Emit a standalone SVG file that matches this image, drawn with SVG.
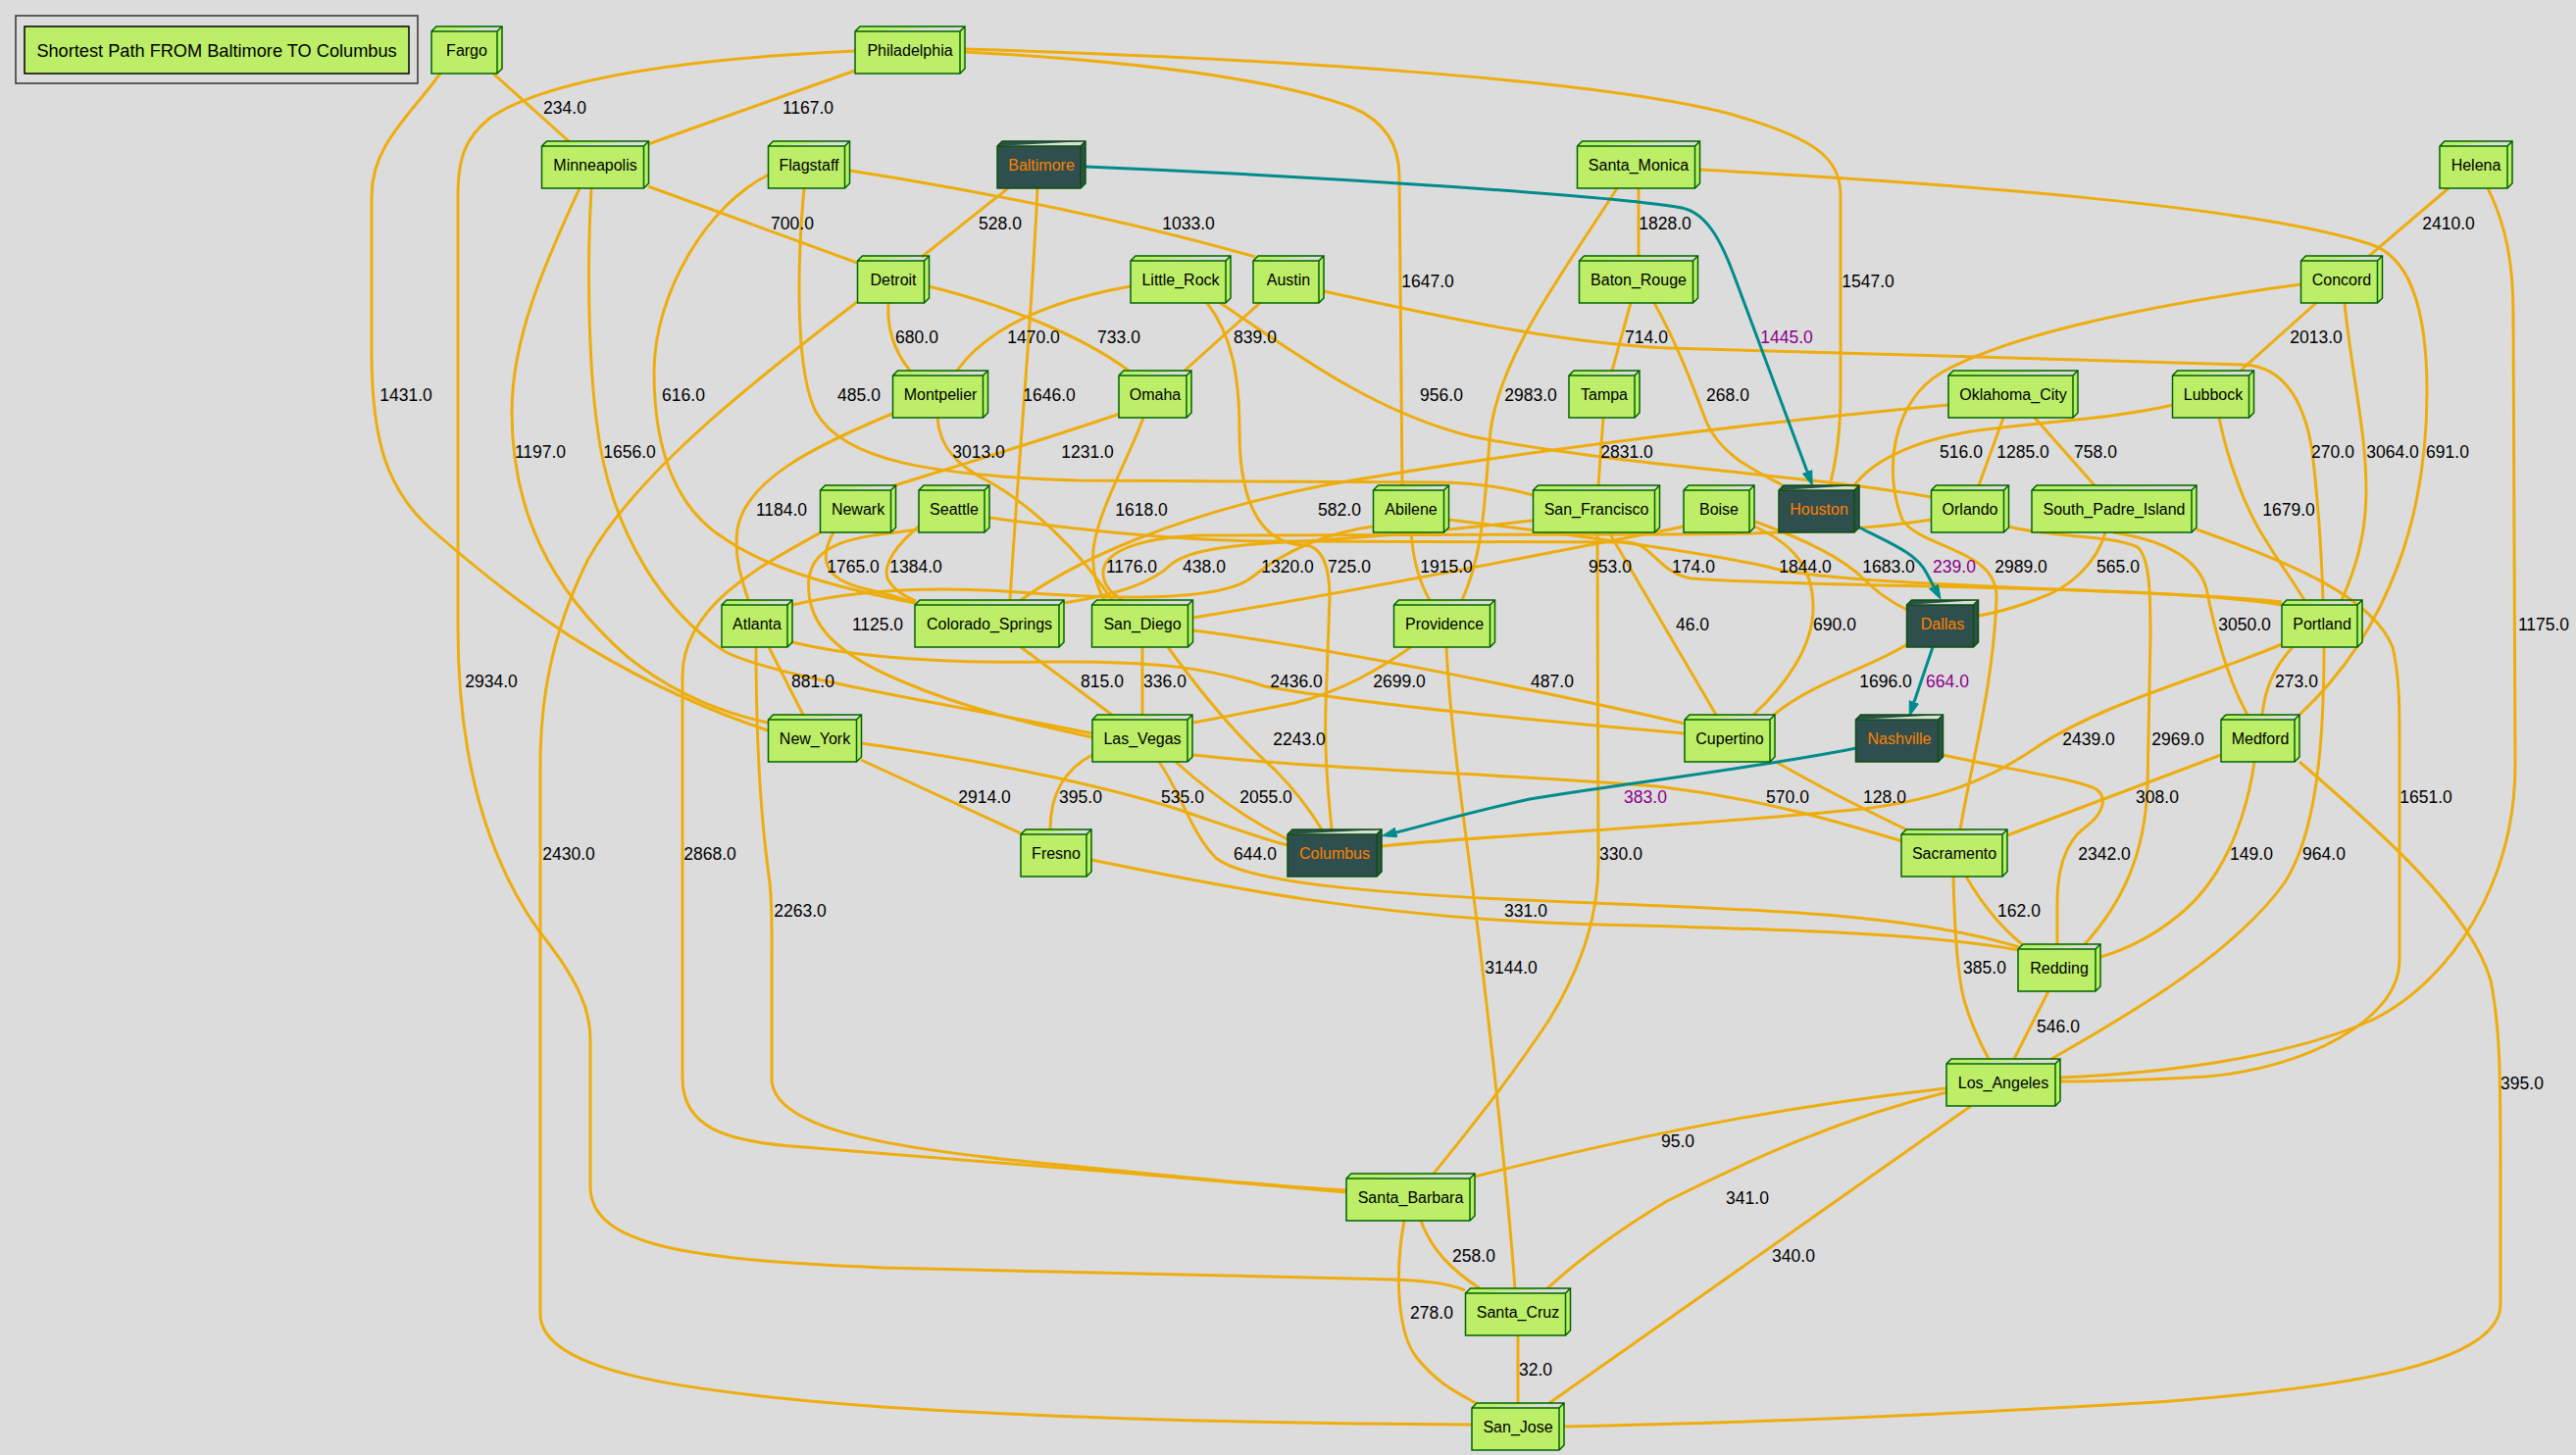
<svg xmlns="http://www.w3.org/2000/svg" width="2627" height="1484" viewBox="0 0 2627 1484">
<style>
text{font-family:"Liberation Sans",Arial,sans-serif}
.node path{fill:#bcee68;stroke:#006400;stroke-width:1.5}
.pnode path{fill:#2f4f4f;stroke:#0a520a;stroke-width:1.5}
.node text,.pnode text{font-size:16px;text-anchor:middle;fill:#000}
.pnode text{fill:#ff7f00}
#edges path{fill:none;stroke:#eead0e;stroke-width:3}
#edges path.pe{stroke:#008b8b;stroke-width:3;marker-end:url(#arr)}
#labels text{font-size:17.5px;text-anchor:middle;fill:#000}
#labels text.pl{fill:#8b008b}
</style>
<defs>
<marker id="arr" markerUnits="userSpaceOnUse" markerWidth="15" markerHeight="11" refX="0" refY="5" orient="auto" viewBox="0 0 15 10"><path d="M0,0L15,5L0,10Z" fill="#008b8b" stroke="#008b8b"/></marker>
</defs>
<rect width="2627" height="1484" fill="#dcdcdc"/>
<g id="title">
<rect x="16" y="16" width="410" height="69" fill="none" stroke="#333" stroke-width="1.5"/>
<rect x="25" y="27" width="392" height="48" fill="#bcee68" stroke="#000" stroke-width="1.5"/>
<text x="221" y="57.5" font-size="18.2" text-anchor="middle">Shortest Path FROM Baltimore TO Columbus</text>
</g>
<g id="edges">
<path d="M503,75 L580,144"/>
<path d="M872,72 L661,147"/>
<path d="M449,75 C418,118 379,148 379,200 L379,360 C379,450 395,500 440,540 C520,610 620,690 783,745"/>
<path d="M872,52 C700,60 560,80 500,120 C475,140 467,160 467,200 L467,640 C467,780 500,880 550,950 C590,1000 602,1030 602,1060 L602,1210 C602,1270 700,1285 900,1293 L1420,1305 C1460,1306 1480,1310 1494,1316"/>
<path d="M984,53 C1150,62 1300,80 1380,110 C1415,125 1427,150 1427,180 L1430,495"/>
<path d="M984,50 C1300,60 1620,80 1760,115 C1850,140 1877,160 1877,200 L1877,400 C1877,450 1870,480 1866,495"/>
<path d="M661,190 L874,268"/>
<path d="M591,192 C560,260 522,340 522,420 C522,520 560,600 640,670 C690,710 740,728 783,737"/>
<path d="M603,192 C598,280 600,400 615,470 C630,540 670,620 740,665 C790,690 950,715 1114,748"/>
<path d="M1028,192 L940,262"/>
<path d="M1058,192 C1052,330 1040,450 1030,612"/>
<path d="M867,174 C1000,195 1150,225 1280,262"/>
<path d="M784,178 C720,210 667,300 667,380 C667,460 690,520 740,550 C790,585 880,605 933,615"/>
<path d="M820,192 C812,280 812,380 832,420 C860,470 950,485 1100,490 L1470,492 C1510,493 1540,498 1563,505"/>
<path d="M1671,192 L1671,261"/>
<path d="M1649,192 C1600,270 1530,360 1520,440 C1514,500 1515,560 1491,612"/>
<path d="M1733,173 C2000,188 2300,210 2420,250 C2460,265 2475,320 2475,400 C2475,520 2440,640 2345,729"/>
<path d="M2497,192 L2416,261"/>
<path d="M2537,192 C2556,230 2563,270 2563,320 L2565,780 C2565,900 2500,1000 2420,1040 C2330,1080 2200,1095 2101,1099"/>
<path d="M906,309 C904,340 915,362 928,378"/>
<path d="M947,292 C1020,310 1100,340 1151,378"/>
<path d="M874,308 C780,380 650,480 600,570 C560,650 551,720 551,780 L551,1340 C551,1400 700,1420 900,1435 C1100,1448 1300,1452 1501,1453"/>
<path d="M1153,292 C1080,305 1010,330 976,378"/>
<path d="M1243,308 C1320,360 1400,420 1500,445 C1650,475 1850,485 1970,507"/>
<path d="M1231,309 C1255,340 1264,380 1264,440 C1264,520 1290,555 1330,556 C1350,557 1356,580 1356,610 L1352,720 C1350,780 1356,820 1358,846"/>
<path d="M1286,308 L1208,378"/>
<path d="M1350,297 C1500,330 1600,350 1700,355 L2290,372 C2330,375 2350,410 2358,460 C2365,520 2368,580 2369,612"/>
<path d="M1663,309 L1644,378"/>
<path d="M1687,309 C1710,350 1725,390 1740,430 C1755,465 1790,480 1818,495"/>
<path d="M2362,309 L2285,378"/>
<path d="M2391,309 C2398,380 2413,440 2413,500 C2413,550 2400,585 2388,612"/>
<path d="M2346,290 C2200,310 2050,340 1980,380 C1930,410 1920,480 1940,530 C1960,560 2038,560 2036,610 C2033,700 2010,780 1999,846"/>
<path d="M910,422 C830,455 760,490 752,540 C748,570 758,595 763,612"/>
<path d="M956,426 C958,455 975,475 1010,492 C1050,515 1100,560 1134,612"/>
<path d="M1142,422 C1060,450 960,480 910,496"/>
<path d="M1166,426 C1150,470 1120,520 1115,560 C1113,585 1120,600 1126,612"/>
<path d="M1635,426 L1630,495"/>
<path d="M1987,413 C1800,430 1550,460 1350,495 C1200,525 1100,570 1041,612"/>
<path d="M2043,426 L2018,495"/>
<path d="M2075,426 L2136,495"/>
<path d="M2216,413 C2150,428 2080,430 2010,440 C1950,450 1910,470 1891,495"/>
<path d="M2263,426 C2272,470 2290,520 2310,550 C2325,575 2340,595 2350,612"/>
<path d="M850,543 C835,570 840,590 880,600 C905,606 925,611 934,616"/>
<path d="M837,543 C770,580 696,620 696,690 L696,1100 C696,1150 740,1165 820,1170 C950,1180 1200,1200 1373,1216"/>
<path d="M937,537 C915,555 900,575 905,590 C910,600 922,608 934,613"/>
<path d="M937,540 C880,547 830,550 825,590 C820,640 860,670 920,695 C990,725 1060,740 1114,752"/>
<path d="M1009,528 C1100,540 1200,552 1300,552 L1660,553 C1685,554 1692,585 1725,590 C1850,600 2200,596 2327,617"/>
<path d="M1970,530 C1900,541 1800,545 1700,545 L1230,546 C1170,547 1128,560 1125,582 C1124,598 1135,606 1145,612"/>
<path d="M1477,530 C1600,545 1750,565 1810,580 C1900,600 2200,600 2327,614"/>
<path d="M1439,543 C1441,570 1448,595 1458,612"/>
<path d="M808,617 C880,600 960,598 1040,604 C1120,610 1240,615 1275,590 C1300,570 1340,545 1400,537"/>
<path d="M1085,615 C1140,606 1175,595 1195,575 C1215,560 1260,555 1330,552 C1430,546 1500,538 1563,531"/>
<path d="M1641,543 L1750,729"/>
<path d="M1629,543 L1630,880 C1630,940 1610,990 1580,1040 C1540,1100 1500,1150 1462,1197"/>
<path d="M1717,537 C1600,560 1400,600 1217,630"/>
<path d="M1789,537 C1830,555 1849,580 1849,620 C1849,660 1820,700 1788,729"/>
<path d="M1790,532 C1840,550 1880,570 1900,590 C1915,605 1930,615 1945,622"/>
<path d="M2147,543 C2138,575 2110,600 2080,610 C2060,618 2040,624 2018,628"/>
<path d="M2155,543 C2200,550 2240,565 2250,600 C2258,640 2270,690 2292,729"/>
<path d="M2240,540 C2340,575 2420,610 2440,660 C2447,690 2447,720 2447,760 L2447,980 C2447,1040 2350,1090 2250,1098 C2180,1102 2130,1103 2101,1103"/>
<path d="M2048,537 C2090,548 2150,545 2180,558 C2192,570 2193,600 2193,650 L2190,800 C2188,870 2165,920 2126,963"/>
<path d="M784,660 L819,729"/>
<path d="M808,655 C870,670 950,677 1070,675 C1170,674 1230,680 1290,700 C1400,720 1600,738 1718,748"/>
<path d="M771,660 C771,740 775,830 785,900 C788,930 787,960 787,990 L787,1100 C787,1150 900,1170 1050,1185 C1200,1200 1300,1210 1373,1214"/>
<path d="M1041,660 L1134,729"/>
<path d="M1165,660 L1165,729"/>
<path d="M1217,643 C1350,660 1550,700 1718,738"/>
<path d="M1191,660 C1220,700 1260,750 1300,785 C1320,805 1335,825 1348,846"/>
<path d="M1439,660 C1410,680 1370,705 1320,717 C1280,725 1250,731 1217,737"/>
<path d="M1475,660 C1480,760 1500,880 1512,990 C1525,1100 1538,1220 1545,1314"/>
<path d="M1945,657 C1910,680 1850,695 1809,729"/>
<path d="M2338,660 C2320,680 2310,700 2307,729"/>
<path d="M2327,657 C2250,690 2150,715 2080,760 C2030,795 1980,815 1900,825 C1700,845 1500,853 1409,863"/>
<path d="M2370,660 C2370,760 2362,850 2330,900 C2280,970 2180,1030 2092,1080"/>
<path d="M878,775 L1041,850"/>
<path d="M878,758 C1000,775 1120,800 1200,825 C1250,842 1285,855 1313,862"/>
<path d="M1114,770 C1085,785 1071,810 1071,846"/>
<path d="M1199,777 C1230,805 1270,835 1313,856"/>
<path d="M1217,770 C1350,785 1550,790 1690,802 C1800,815 1880,840 1940,858"/>
<path d="M1182,777 C1205,810 1215,850 1240,875 C1270,900 1400,912 1600,920 C1800,928 1950,932 2059,966"/>
<path d="M1811,777 C1860,805 1900,825 1944,846"/>
<path d="M1981,770 C2050,785 2120,795 2138,805 C2150,815 2145,830 2125,845 C2105,860 2098,890 2098,920 L2098,963"/>
<path d="M2265,770 L2047,852"/>
<path d="M2299,777 C2290,840 2265,900 2220,935 C2195,955 2170,968 2142,976"/>
<path d="M2345,777 C2430,850 2520,930 2540,1000 C2550,1050 2550,1100 2550,1200 L2550,1330 C2550,1390 2400,1415 2200,1430 C1950,1445 1750,1452 1595,1455"/>
<path d="M1113,877 C1250,905 1400,935 1600,942 C1800,948 1950,950 2059,969"/>
<path d="M2005,894 C2020,920 2040,945 2062,963"/>
<path d="M1992,894 C1993,940 1995,990 2003,1020 C2010,1045 2020,1065 2028,1080"/>
<path d="M2089,1011 L2054,1080"/>
<path d="M1985,1110 C1850,1125 1700,1150 1504,1200"/>
<path d="M1985,1114 C1880,1140 1790,1180 1700,1225 C1650,1255 1610,1285 1578,1314"/>
<path d="M2010,1128 L1580,1431"/>
<path d="M1449,1245 C1460,1275 1480,1295 1509,1314"/>
<path d="M1432,1245 C1422,1300 1425,1360 1445,1385 C1465,1410 1485,1420 1505,1431"/>
<path d="M1548,1362 L1548,1431"/>
<path class="pe" d="M1107,170 C1350,180 1650,200 1715,212 C1740,217 1755,245 1768,280 L1843,481"/>
<path class="pe" d="M1894,537 C1930,555 1955,565 1965,585 L1972,598"/>
<path class="pe" d="M1971,660 L1952,716"/>
<path class="pe" d="M1893,763 C1800,782 1650,800 1560,815 C1500,828 1460,840 1424,849"/>
</g>
<g id="labels">
<text x="576" y="115.5">234.0</text>
<text x="824" y="115.5">1167.0</text>
<text x="808" y="233.5">700.0</text>
<text x="1020" y="233.5">528.0</text>
<text x="1212" y="233.5">1033.0</text>
<text x="1456" y="292.5">1647.0</text>
<text x="1905" y="292.5">1547.0</text>
<text x="1698" y="233.5">1828.0</text>
<text class="pl" x="1822" y="349.5">1445.0</text>
<text x="1679" y="349.5">714.0</text>
<text x="1470" y="408.5">956.0</text>
<text x="1561" y="408.5">2983.0</text>
<text x="1762" y="408.5">268.0</text>
<text x="1659" y="466.5">2831.0</text>
<text x="2497" y="233.5">2410.0</text>
<text x="2362" y="349.5">2013.0</text>
<text x="2000" y="466.5">516.0</text>
<text x="2063" y="466.5">1285.0</text>
<text x="2137" y="466.5">758.0</text>
<text x="2379" y="466.5">270.0</text>
<text x="2440" y="466.5">3064.0</text>
<text x="2496" y="466.5">691.0</text>
<text x="414" y="408.5">1431.0</text>
<text x="551" y="466.5">1197.0</text>
<text x="642" y="466.5">1656.0</text>
<text x="697" y="408.5">616.0</text>
<text x="876" y="408.5">485.0</text>
<text x="935" y="349.5">680.0</text>
<text x="1054" y="349.5">1470.0</text>
<text x="1141" y="349.5">733.0</text>
<text x="1280" y="349.5">839.0</text>
<text x="1070" y="408.5">1646.0</text>
<text x="998" y="466.5">3013.0</text>
<text x="1109" y="466.5">1231.0</text>
<text x="501" y="700.5">2934.0</text>
<text x="580" y="876.5">2430.0</text>
<text x="797" y="525.5">1184.0</text>
<text x="870" y="583.5">1765.0</text>
<text x="934" y="583.5">1384.0</text>
<text x="895" y="642.5">1125.0</text>
<text x="1164" y="525.5">1618.0</text>
<text x="1154" y="583.5">1176.0</text>
<text x="1228" y="583.5">438.0</text>
<text x="1313" y="583.5">1320.0</text>
<text x="1376" y="583.5">725.0</text>
<text x="1366" y="525.5">582.0</text>
<text x="1475" y="583.5">1915.0</text>
<text x="1642" y="583.5">953.0</text>
<text x="1727" y="583.5">174.0</text>
<text x="1841" y="583.5">1844.0</text>
<text x="1926" y="583.5">1683.0</text>
<text class="pl" x="1993" y="583.5">239.0</text>
<text x="2061" y="583.5">2989.0</text>
<text x="2160" y="583.5">565.0</text>
<text x="2334" y="525.5">1679.0</text>
<text x="2289" y="642.5">3050.0</text>
<text x="2594" y="642.5">1175.0</text>
<text x="1726" y="642.5">46.0</text>
<text x="1871" y="642.5">690.0</text>
<text x="1322" y="700.5">2436.0</text>
<text x="1427" y="700.5">2699.0</text>
<text x="1583" y="700.5">487.0</text>
<text x="1923" y="700.5">1696.0</text>
<text class="pl" x="1986" y="700.5">664.0</text>
<text x="2342" y="700.5">273.0</text>
<text x="829" y="700.5">881.0</text>
<text x="1124" y="700.5">815.0</text>
<text x="1188" y="700.5">336.0</text>
<text x="1325" y="759.5">2243.0</text>
<text x="2130" y="759.5">2439.0</text>
<text x="2221" y="759.5">2969.0</text>
<text x="1004" y="818.5">2914.0</text>
<text x="1102" y="818.5">395.0</text>
<text x="1206" y="818.5">535.0</text>
<text x="1291" y="818.5">2055.0</text>
<text class="pl" x="1678" y="818.5">383.0</text>
<text x="1823" y="818.5">570.0</text>
<text x="1922" y="818.5">128.0</text>
<text x="2200" y="818.5">308.0</text>
<text x="2474" y="818.5">1651.0</text>
<text x="724" y="876.5">2868.0</text>
<text x="1280" y="876.5">644.0</text>
<text x="1653" y="876.5">330.0</text>
<text x="2146" y="876.5">2342.0</text>
<text x="2296" y="876.5">149.0</text>
<text x="2370" y="876.5">964.0</text>
<text x="816" y="934.5">2263.0</text>
<text x="1556" y="934.5">331.0</text>
<text x="1541" y="992.5">3144.0</text>
<text x="2059" y="934.5">162.0</text>
<text x="2024" y="992.5">385.0</text>
<text x="2099" y="1052.5">546.0</text>
<text x="2572" y="1110.5">395.0</text>
<text x="1711" y="1169.5">95.0</text>
<text x="1782" y="1227.5">341.0</text>
<text x="1829" y="1286.5">340.0</text>
<text x="1503" y="1286.5">258.0</text>
<text x="1460" y="1344.5">278.0</text>
<text x="1566" y="1402.5">32.0</text>
</g>
<g id="nodes">
<g id="Fargo" class="node" transform="translate(476,51)"><path d="M-36,-19L-31,-24H36V19L31,24H-36Z M-36,-19H31L36,-24M31,-19V24"/><text y="6">Fargo</text></g>
<g id="Philadelphia" class="node" transform="translate(928,51)"><path d="M-56,-19L-51,-24H56V19L51,24H-56Z M-56,-19H51L56,-24M51,-19V24"/><text y="6">Philadelphia</text></g>
<g id="Minneapolis" class="node" transform="translate(607,168)"><path d="M-54.5,-19L-49.5,-24H54.5V19L49.5,24H-54.5Z M-54.5,-19H49.5L54.5,-24M49.5,-19V24"/><text y="6">Minneapolis</text></g>
<g id="Flagstaff" class="node" transform="translate(825,168)"><path d="M-41.5,-19L-36.5,-24H41.5V19L36.5,24H-41.5Z M-41.5,-19H36.5L41.5,-24M36.5,-19V24"/><text y="6">Flagstaff</text></g>
<g id="Baltimore" class="pnode" transform="translate(1062,168)"><path d="M-45,-19L-40,-24H45V19L40,24H-45Z M-45,-19H40L45,-24M40,-19V24"/><text y="6">Baltimore</text></g>
<g id="Santa_Monica" class="node" transform="translate(1671,168)"><path d="M-62.5,-19L-57.5,-24H62.5V19L57.5,24H-62.5Z M-62.5,-19H57.5L62.5,-24M57.5,-19V24"/><text y="6">Santa_Monica</text></g>
<g id="Helena" class="node" transform="translate(2525,168)"><path d="M-37,-19L-32,-24H37V19L32,24H-37Z M-37,-19H32L37,-24M32,-19V24"/><text y="6">Helena</text></g>
<g id="Detroit" class="node" transform="translate(911,285)"><path d="M-36.5,-19L-31.5,-24H36.5V19L31.5,24H-36.5Z M-36.5,-19H31.5L36.5,-24M31.5,-19V24"/><text y="6">Detroit</text></g>
<g id="Little_Rock" class="node" transform="translate(1204,285)"><path d="M-51,-19L-46,-24H51V19L46,24H-51Z M-51,-19H46L51,-24M46,-19V24"/><text y="6">Little_Rock</text></g>
<g id="Austin" class="node" transform="translate(1314,285)"><path d="M-36,-19L-31,-24H36V19L31,24H-36Z M-36,-19H31L36,-24M31,-19V24"/><text y="6">Austin</text></g>
<g id="Baton_Rouge" class="node" transform="translate(1671,285)"><path d="M-60.5,-19L-55.5,-24H60.5V19L55.5,24H-60.5Z M-60.5,-19H55.5L60.5,-24M55.5,-19V24"/><text y="6">Baton_Rouge</text></g>
<g id="Concord" class="node" transform="translate(2388,285)"><path d="M-41.5,-19L-36.5,-24H41.5V19L36.5,24H-41.5Z M-41.5,-19H36.5L41.5,-24M36.5,-19V24"/><text y="6">Concord</text></g>
<g id="Montpelier" class="node" transform="translate(959,402)"><path d="M-48.5,-19L-43.5,-24H48.5V19L43.5,24H-48.5Z M-48.5,-19H43.5L48.5,-24M43.5,-19V24"/><text y="6">Montpelier</text></g>
<g id="Omaha" class="node" transform="translate(1178,402)"><path d="M-37,-19L-32,-24H37V19L32,24H-37Z M-37,-19H32L37,-24M32,-19V24"/><text y="6">Omaha</text></g>
<g id="Tampa" class="node" transform="translate(1636,402)"><path d="M-36,-19L-31,-24H36V19L31,24H-36Z M-36,-19H31L36,-24M31,-19V24"/><text y="6">Tampa</text></g>
<g id="Oklahoma_City" class="node" transform="translate(2053,402)"><path d="M-66,-19L-61,-24H66V19L61,24H-66Z M-66,-19H61L66,-24M61,-19V24"/><text y="6">Oklahoma_City</text></g>
<g id="Lubbock" class="node" transform="translate(2257,402)"><path d="M-41.5,-19L-36.5,-24H41.5V19L36.5,24H-41.5Z M-41.5,-19H36.5L41.5,-24M36.5,-19V24"/><text y="6">Lubbock</text></g>
<g id="Newark" class="node" transform="translate(875,519)"><path d="M-38.5,-19L-33.5,-24H38.5V19L33.5,24H-38.5Z M-38.5,-19H33.5L38.5,-24M33.5,-19V24"/><text y="6">Newark</text></g>
<g id="Seattle" class="node" transform="translate(973,519)"><path d="M-36,-19L-31,-24H36V19L31,24H-36Z M-36,-19H31L36,-24M31,-19V24"/><text y="6">Seattle</text></g>
<g id="Abilene" class="node" transform="translate(1439,519)"><path d="M-38.5,-19L-33.5,-24H38.5V19L33.5,24H-38.5Z M-38.5,-19H33.5L38.5,-24M33.5,-19V24"/><text y="6">Abilene</text></g>
<g id="San_Francisco" class="node" transform="translate(1628,519)"><path d="M-64.5,-19L-59.5,-24H64.5V19L59.5,24H-64.5Z M-64.5,-19H59.5L64.5,-24M59.5,-19V24"/><text y="6">San_Francisco</text></g>
<g id="Boise" class="node" transform="translate(1753,519)"><path d="M-36,-19L-31,-24H36V19L31,24H-36Z M-36,-19H31L36,-24M31,-19V24"/><text y="6">Boise</text></g>
<g id="Houston" class="pnode" transform="translate(1855,519)"><path d="M-41,-19L-36,-24H41V19L36,24H-41Z M-41,-19H36L41,-24M36,-19V24"/><text y="6">Houston</text></g>
<g id="Orlando" class="node" transform="translate(2009,519)"><path d="M-39.5,-19L-34.5,-24H39.5V19L34.5,24H-39.5Z M-39.5,-19H34.5L39.5,-24M34.5,-19V24"/><text y="6">Orlando</text></g>
<g id="South_Padre_Island" class="node" transform="translate(2156,519)"><path d="M-84,-19L-79,-24H84V19L79,24H-84Z M-84,-19H79L84,-24M79,-19V24"/><text y="6">South_Padre_Island</text></g>
<g id="Atlanta" class="node" transform="translate(772,636)"><path d="M-36,-19L-31,-24H36V19L31,24H-36Z M-36,-19H31L36,-24M31,-19V24"/><text y="6">Atlanta</text></g>
<g id="Colorado_Springs" class="node" transform="translate(1009,636)"><path d="M-76,-19L-71,-24H76V19L71,24H-76Z M-76,-19H71L76,-24M71,-19V24"/><text y="6">Colorado_Springs</text></g>
<g id="San_Diego" class="node" transform="translate(1165,636)"><path d="M-51.5,-19L-46.5,-24H51.5V19L46.5,24H-51.5Z M-51.5,-19H46.5L51.5,-24M46.5,-19V24"/><text y="6">San_Diego</text></g>
<g id="Providence" class="node" transform="translate(1473,636)"><path d="M-51.5,-19L-46.5,-24H51.5V19L46.5,24H-51.5Z M-51.5,-19H46.5L51.5,-24M46.5,-19V24"/><text y="6">Providence</text></g>
<g id="Dallas" class="pnode" transform="translate(1981,636)"><path d="M-36.5,-19L-31.5,-24H36.5V19L31.5,24H-36.5Z M-36.5,-19H31.5L36.5,-24M31.5,-19V24"/><text y="6">Dallas</text></g>
<g id="Portland" class="node" transform="translate(2368,636)"><path d="M-41,-19L-36,-24H41V19L36,24H-41Z M-41,-19H36L41,-24M36,-19V24"/><text y="6">Portland</text></g>
<g id="New_York" class="node" transform="translate(831,753)"><path d="M-47.5,-19L-42.5,-24H47.5V19L42.5,24H-47.5Z M-47.5,-19H42.5L47.5,-24M42.5,-19V24"/><text y="6">New_York</text></g>
<g id="Las_Vegas" class="node" transform="translate(1165,753)"><path d="M-51,-19L-46,-24H51V19L46,24H-51Z M-51,-19H46L51,-24M46,-19V24"/><text y="6">Las_Vegas</text></g>
<g id="Cupertino" class="node" transform="translate(1764,753)"><path d="M-46,-19L-41,-24H46V19L41,24H-46Z M-46,-19H41L46,-24M41,-19V24"/><text y="6">Cupertino</text></g>
<g id="Nashville" class="pnode" transform="translate(1937,753)"><path d="M-44.5,-19L-39.5,-24H44.5V19L39.5,24H-44.5Z M-44.5,-19H39.5L44.5,-24M39.5,-19V24"/><text y="6">Nashville</text></g>
<g id="Medford" class="node" transform="translate(2305,753)"><path d="M-40,-19L-35,-24H40V19L35,24H-40Z M-40,-19H35L40,-24M35,-19V24"/><text y="6">Medford</text></g>
<g id="Fresno" class="node" transform="translate(1077,870)"><path d="M-36,-19L-31,-24H36V19L31,24H-36Z M-36,-19H31L36,-24M31,-19V24"/><text y="6">Fresno</text></g>
<g id="Columbus" class="pnode" transform="translate(1361,870)"><path d="M-48,-19L-43,-24H48V19L43,24H-48Z M-48,-19H43L48,-24M43,-19V24"/><text y="6">Columbus</text></g>
<g id="Sacramento" class="node" transform="translate(1993,870)"><path d="M-54,-19L-49,-24H54V19L49,24H-54Z M-54,-19H49L54,-24M49,-19V24"/><text y="6">Sacramento</text></g>
<g id="Redding" class="node" transform="translate(2100,987)"><path d="M-42,-19L-37,-24H42V19L37,24H-42Z M-42,-19H37L42,-24M37,-19V24"/><text y="6">Redding</text></g>
<g id="Los_Angeles" class="node" transform="translate(2043,1104)"><path d="M-58,-19L-53,-24H58V19L53,24H-58Z M-58,-19H53L58,-24M53,-19V24"/><text y="6">Los_Angeles</text></g>
<g id="Santa_Barbara" class="node" transform="translate(1438.5,1221)"><path d="M-65.5,-19L-60.5,-24H65.5V19L60.5,24H-65.5Z M-65.5,-19H60.5L65.5,-24M60.5,-19V24"/><text y="6">Santa_Barbara</text></g>
<g id="Santa_Cruz" class="node" transform="translate(1548,1338)"><path d="M-53.5,-19L-48.5,-24H53.5V19L48.5,24H-53.5Z M-53.5,-19H48.5L53.5,-24M48.5,-19V24"/><text y="6">Santa_Cruz</text></g>
<g id="San_Jose" class="node" transform="translate(1548,1455)"><path d="M-47,-19L-42,-24H47V19L42,24H-47Z M-47,-19H42L47,-24M42,-19V24"/><text y="6">San_Jose</text></g>
</g>
</svg>
